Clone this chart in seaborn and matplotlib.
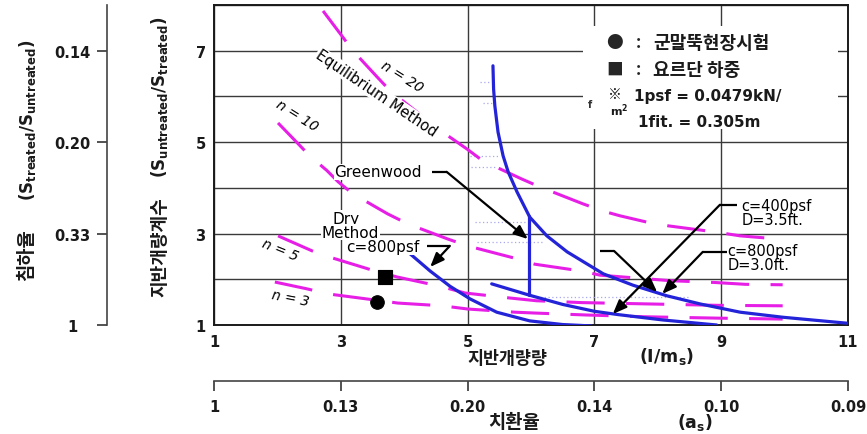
import matplotlib
matplotlib.use("Agg")
import matplotlib.pyplot as plt
import seaborn as sns
import pandas as pd
from matplotlib.patches import Rectangle

# ---------------- data ----------------
x_ticks = [1, 3, 5, 7, 9, 11]
x_ticklabels = ['1', '3', '5', '7', '9', '11']
y_ticks = [1, 2, 3, 4, 5, 6, 7, 8]
y_ticklabels = ['1', '', '3', '', '5', '', '7', '']
settle_ticks = [1, 3, 5, 7]
settle_labels = ['1', '0.33', '0.20', '0.14']
replace_labels = ['1', '0.13', '0.20', '0.14', '0.10', '0.09']

# n-curves (magenta, dashed)
n20_x = [2.72, 3.03, 3.19, 3.57, 3.78, 4.20, 4.45, 4.72, 4.99, 5.24, 5.86, 6.14, 6.82, 7.14, 7.40, 7.83, 8.16, 8.93, 9.30, 10.0]
n20_y = [7.87, 7.30, 7.00, 6.43, 6.12, 5.66, 5.35, 5.11, 4.85, 4.59, 4.19, 4.02, 3.65, 3.49, 3.39, 3.25, 3.17, 3.03, 2.95, 2.87]
n10_x = [2.01, 2.33, 2.51, 2.78, 2.96, 3.19, 3.74, 4.06, 4.69, 5.00, 5.72, 6.06, 6.80, 7.09, 8.19, 8.90, 9.38, 9.97]
n10_y = [5.42, 4.96, 4.70, 4.38, 4.13, 3.87, 3.43, 3.21, 2.88, 2.73, 2.47, 2.33, 2.18, 2.09, 1.97, 1.93, 1.89, 1.88]
n5_x = [2.01, 2.55, 2.86, 3.59, 3.89, 4.56, 4.96, 5.67, 6.09, 6.80, 7.88, 8.95, 9.97]
n5_y = [2.95, 2.62, 2.47, 2.16, 2.05, 1.85, 1.70, 1.59, 1.53, 1.49, 1.46, 1.43, 1.42]
n3_x = [1.96, 2.47, 2.80, 3.41, 3.90, 4.60, 5.00, 5.75, 6.09, 6.85, 7.80, 8.95, 9.97]
n3_y = [1.94, 1.79, 1.68, 1.57, 1.48, 1.42, 1.35, 1.28, 1.26, 1.22, 1.18, 1.15, 1.13]

# design curves (blue)
c800d30_x = [5.40, 5.41, 5.43, 5.48, 5.56, 5.64, 5.78, 5.98, 6.25, 6.57, 7.14, 7.61, 8.14, 8.67, 9.30, 9.97, 10.98]
c800d30_y = [6.67, 6.16, 5.79, 5.22, 4.70, 4.35, 3.91, 3.36, 2.95, 2.60, 2.12, 1.87, 1.64, 1.46, 1.28, 1.17, 1.04]
c400d35_x = [5.38, 5.98, 6.50, 7.00, 7.36, 8.08, 8.93]
c400d35_y = [1.90, 1.65, 1.45, 1.30, 1.23, 1.11, 1.00]
dry_x = [4.04, 4.41, 4.72, 5.04, 5.46, 5.98, 6.50, 6.95]
dry_y = [2.62, 2.18, 1.85, 1.57, 1.28, 1.09, 1.01, 0.98]
greenwood_x = [5.97, 5.97]
greenwood_y = [3.38, 1.66]

# faint dotted helper lines (x0, x1, y)
dot_x0 = [5.20, 5.24, 5.04, 5.06, 5.12, 5.15, 6.03]
dot_x1 = [5.36, 5.38, 5.48, 5.46, 5.98, 6.19, 8.50]
dot_y = [6.32, 5.86, 4.70, 4.45, 3.25, 2.82, 1.61]

# field test points
field_x = [3.57]
field_y = [1.50]
load_x = [3.70]
load_y = [2.05]

# ---------------- style ----------------
sns.set_theme(style="white")
plt.rcParams['font.family'] = ['DejaVu Sans', 'Noto Sans CJK KR']
plt.rcParams['mathtext.fontset'] = 'dejavusans'
plt.rcParams['axes.unicode_minus'] = False

KR = ['Noto Sans CJK KR', 'DejaVu Sans']
MAG = '#e61ee6'
BLUE = '#2323d8'
GRID = '#3a3a3a'
TXT = '#1a1a1a'
AX2 = '#444444'

W, H = 867, 435
fig = plt.figure(figsize=(W / 100, H / 100), dpi=100)
fig.patch.set_facecolor('white')

L, R, T, B = 214, 848, 6, 326
ax = fig.add_axes([L / W, 1 - B / H, (R - L) / W, (B - T) / H])
ax.set_facecolor('white')

# magenta n-curves
mag_df = pd.concat([
    pd.DataFrame({'x': n20_x, 'y': n20_y, 'curve': 'n20'}),
    pd.DataFrame({'x': n10_x, 'y': n10_y, 'curve': 'n10'}),
    pd.DataFrame({'x': n5_x, 'y': n5_y, 'curve': 'n5'}),
    pd.DataFrame({'x': n3_x, 'y': n3_y, 'curve': 'n3'}),
], ignore_index=True)
n_before = len(ax.lines)
sns.lineplot(data=mag_df, x='x', y='y', units='curve', estimator=None, sort=False,
             color=MAG, lw=2.2, ax=ax, legend=False, zorder=3)
for ln in ax.lines[n_before:]:
    ln.set_linestyle((0, (12.5, 7)))
    ln.set_dash_capstyle('butt')

# blue design curves
blue_df = pd.concat([
    pd.DataFrame({'x': c800d30_x, 'y': c800d30_y, 'curve': 'c800d30'}),
    pd.DataFrame({'x': c400d35_x, 'y': c400d35_y, 'curve': 'c400d35'}),
    pd.DataFrame({'x': dry_x, 'y': dry_y, 'curve': 'dry'}),
    pd.DataFrame({'x': greenwood_x, 'y': greenwood_y, 'curve': 'greenwood'}),
], ignore_index=True)
sns.lineplot(data=blue_df, x='x', y='y', units='curve', estimator=None, sort=False,
             color=BLUE, lw=2.3, ax=ax, legend=False, zorder=4)

# faint dotted lines
for x0, x1, yy in zip(dot_x0, dot_x1, dot_y):
    ax.plot([x0, x1], [yy, yy], ls=(0, (1, 2)), color='#a8a8ee', lw=0.9, zorder=2)

# markers
sns.scatterplot(x=field_x, y=field_y, marker='o', s=95, color='black', edgecolor='black',
                ax=ax, zorder=6, legend=False)
sns.scatterplot(x=load_x, y=load_y, marker='s', s=105, color='black', edgecolor='black',
                ax=ax, zorder=6, legend=False)

ax.set_xlim(1, 11)
ax.set_ylim(1, 8)
ax.set_xticks(x_ticks)
ax.set_xticklabels(x_ticklabels)
ax.set_yticks(y_ticks)
ax.set_yticklabels(y_ticklabels)
ax.grid(True, color=GRID, lw=1.0, zorder=1)
ax.set_axisbelow(True)
ax.tick_params(axis='both', length=0, labelsize=10.5)
ax.tick_params(axis='x', pad=6.5)
ax.tick_params(axis='y', pad=6)
for t in ax.get_xticklabels() + ax.get_yticklabels():
    t.set_fontweight('bold')
    t.set_color(TXT)
for s in ax.spines.values():
    s.set_color(TXT)
    s.set_linewidth(1.4)
ax.set_xlabel('')
ax.set_ylabel('')

# white legend panel
ax.add_patch(Rectangle((6.82, 5.29), 4.02, 2.25, facecolor='white', edgecolor='none', zorder=2.5))

# legend texts
ax.text(7.32, 7.19, '●', family=KR, fontsize=12, ha='center', va='center', zorder=7)
ax.text(7.70, 7.19, ':', family=KR, fontsize=12, fontweight='bold', ha='center', va='center', zorder=7)
ax.text(7.93, 7.19, '군말뚝현장시험', family=KR, fontsize=13, fontweight='bold', ha='left', va='center', zorder=7, color=TXT)
ax.text(7.32, 6.60, '■', family=KR, fontsize=12, ha='center', va='center', zorder=7)
ax.text(7.70, 6.60, ':', family=KR, fontsize=12, fontweight='bold', ha='center', va='center', zorder=7)
ax.text(7.93, 6.60, '요르단 하중', family=KR, fontsize=13, fontweight='bold', ha='left', va='center', zorder=7, color=TXT)
ax.text(7.22, 6.05, '※', family=KR, fontsize=10, ha='left', va='center', zorder=7, color=TXT)
ax.text(7.62, 6.01, '1psf = 0.0479kN/', fontsize=11, fontweight='bold', ha='left', va='center', zorder=7, color=TXT)
ax.text(7.24, 5.70, 'm$^{\\mathbf{2}}$', fontsize=8, fontweight='bold', ha='left', va='center', zorder=7, color=TXT)
ax.text(7.69, 5.46, '1fit. = 0.305m', fontsize=11, fontweight='bold', ha='left', va='center', zorder=7, color=TXT)
ax.text(6.93, 5.84, 'f', fontsize=7, fontweight='bold', ha='center', va='center', zorder=7, color='#333333')

# curve labels
lab_kw = dict(fontsize=10, color='black', ha='center', va='center', zorder=7)
wb = dict(facecolor='white', edgecolor='none', pad=0.4)
ax.text(3.97, 6.45, 'n = 20', rotation=-32, style='italic', **lab_kw)
ax.text(3.56, 6.08, 'Equilibrium Method', rotation=-34, bbox=wb, **dict(lab_kw, fontsize=10.5))
ax.text(2.31, 5.60, 'n = 10', rotation=-32, style='italic', **lab_kw)
ax.text(2.04, 2.66, 'n = 5', rotation=-22, style='italic', **lab_kw)
ax.text(2.21, 1.59, 'n = 3', rotation=-11, style='italic', **lab_kw)
lab11 = dict(lab_kw, fontsize=11)
ax.text(3.08, 3.33, 'Dry', bbox=wb, **lab11)
ax.text(3.15, 3.03, 'Method', bbox=wb, **lab11)
ax.text(2.90, 4.35, 'Greenwood', fontsize=11, color='black', ha='left', va='center', zorder=7,
        bbox=dict(facecolor='white', edgecolor='none', pad=0.3))
ax.text(3.08, 2.71, 'c=800psf', fontsize=11, color='black', ha='left', va='center', zorder=7,
        bbox=dict(facecolor='white', edgecolor='none', pad=0.3))
ax.text(9.32, 3.47, 'c=400psf\nD=3.5ft.', fontsize=10.5, color='black', ha='left', va='center',
        linespacing=0.92, zorder=7)
ax.text(9.10, 2.47, 'c=800psf\nD=3.0ft.', fontsize=10.5, color='black', ha='left', va='center',
        linespacing=0.92, zorder=7)

# leader lines and arrows
arrow_kw = dict(arrowstyle='-|>,head_length=0.7,head_width=0.28', color='black', lw=1.6,
                shrinkA=0, shrinkB=0)
leaders = [
    ((4.44, 4.35), (4.67, 4.35), (5.95, 2.88)),   # Greenwood
    ((4.36, 2.73), (4.72, 2.73), (4.41, 2.27)),   # c=800psf dry
    ((9.25, 3.63), (8.98, 3.63), (7.29, 1.24)),   # c=400psf D=3.5
    ((9.09, 2.60), (8.71, 2.60), (8.07, 1.68)),   # c=800psf D=3.0
    ((7.09, 2.62), (7.31, 2.62), (7.99, 1.72)),   # extra leader
]
for p0, p1, p2 in leaders:
    ax.plot([p0[0], p1[0]], [p0[1], p1[1]], color='black', lw=1.6, zorder=6,
            solid_capstyle='butt')
    ax.annotate('', xy=p2, xytext=p1, arrowprops=arrow_kw, zorder=6)

# ---------------- left secondary axis (settlement ratio) ----------------
axl = fig.add_axes([97 / W, 1 - B / H, 10 / W, (B - T) / H])
axl.patch.set_visible(False)
axl.set_ylim(1, 8)
for s in ['top', 'left', 'bottom']:
    axl.spines[s].set_visible(False)
axl.spines['right'].set_visible(True)
axl.spines['right'].set_color(AX2)
axl.spines['right'].set_linewidth(1.2)
axl.set_xticks([])
axl.set_yticks(settle_ticks)
axl.set_yticklabels(settle_labels)
axl.tick_params(axis='y', which='major', left=False, right=True, labelleft=True,
                labelright=False, direction='in', length=7.2, width=1.3, color=AX2,
                pad=18, labelsize=10.5)
for t in axl.get_yticklabels():
    t.set_fontweight('bold')
    t.set_ha('center')
    t.set_color(TXT)

# ---------------- bottom secondary axis (replacement ratio) ----------------
axb = fig.add_axes([L / W, 1 - 392 / H, (R - L) / W, 10 / H])
axb.patch.set_visible(False)
axb.set_xlim(1, 11)
for s in ['bottom', 'right', 'left']:
    axb.spines[s].set_visible(False)
axb.spines['top'].set_visible(True)
axb.spines['top'].set_color(AX2)
axb.spines['top'].set_linewidth(1.2)
axb.set_yticks([])
axb.set_xticks(x_ticks)
axb.set_xticklabels(replace_labels)
axb.tick_params(axis='x', which='major', bottom=False, top=True, labelbottom=True,
                labeltop=False, direction='in', length=7.2, width=1.3, color=AX2,
                pad=5.5, labelsize=10.5)
for t in axb.get_xticklabels():
    t.set_fontweight('bold')
    t.set_color(TXT)

# ---------------- axis titles ----------------
def fx(px):
    return px / W

def fy(py):
    return 1 - py / H

fig.text(fx(507), fy(359), '지반개량량', family=KR, fontsize=12.5, fontweight='bold',
         ha='center', va='center', color=TXT)
fig.text(fx(667), fy(357), r'$\mathbf{(I/m_{s})}$', fontsize=12.5, ha='center', va='center',
         color=TXT)
fig.text(fx(514), fy(423), '치환율', family=KR, fontsize=13.5, fontweight='bold',
         ha='center', va='center', color=TXT)
fig.text(fx(695), fy(423), r'$\mathbf{(a_{s})}$', fontsize=12.5, ha='center', va='center',
         color=TXT)
fig.text(fx(28), fy(120), r'$\mathbf{(S_{treated}/S_{untreated})}$', fontsize=12, rotation=90,
         ha='center', va='center', color=TXT)
fig.text(fx(27), fy(255), '침하율', family=KR, fontsize=13.5, fontweight='bold', rotation=90,
         ha='center', va='center', color=TXT)
fig.text(fx(160), fy(97), r'$\mathbf{(S_{untreated}/S_{treated})}$', fontsize=12, rotation=90,
         ha='center', va='center', color=TXT)
fig.text(fx(160), fy(247), '지반개량계수', family=KR, fontsize=13, fontweight='bold', rotation=90,
         ha='center', va='center', color=TXT)

fig.savefig('out.png', dpi=100, facecolor='white')
